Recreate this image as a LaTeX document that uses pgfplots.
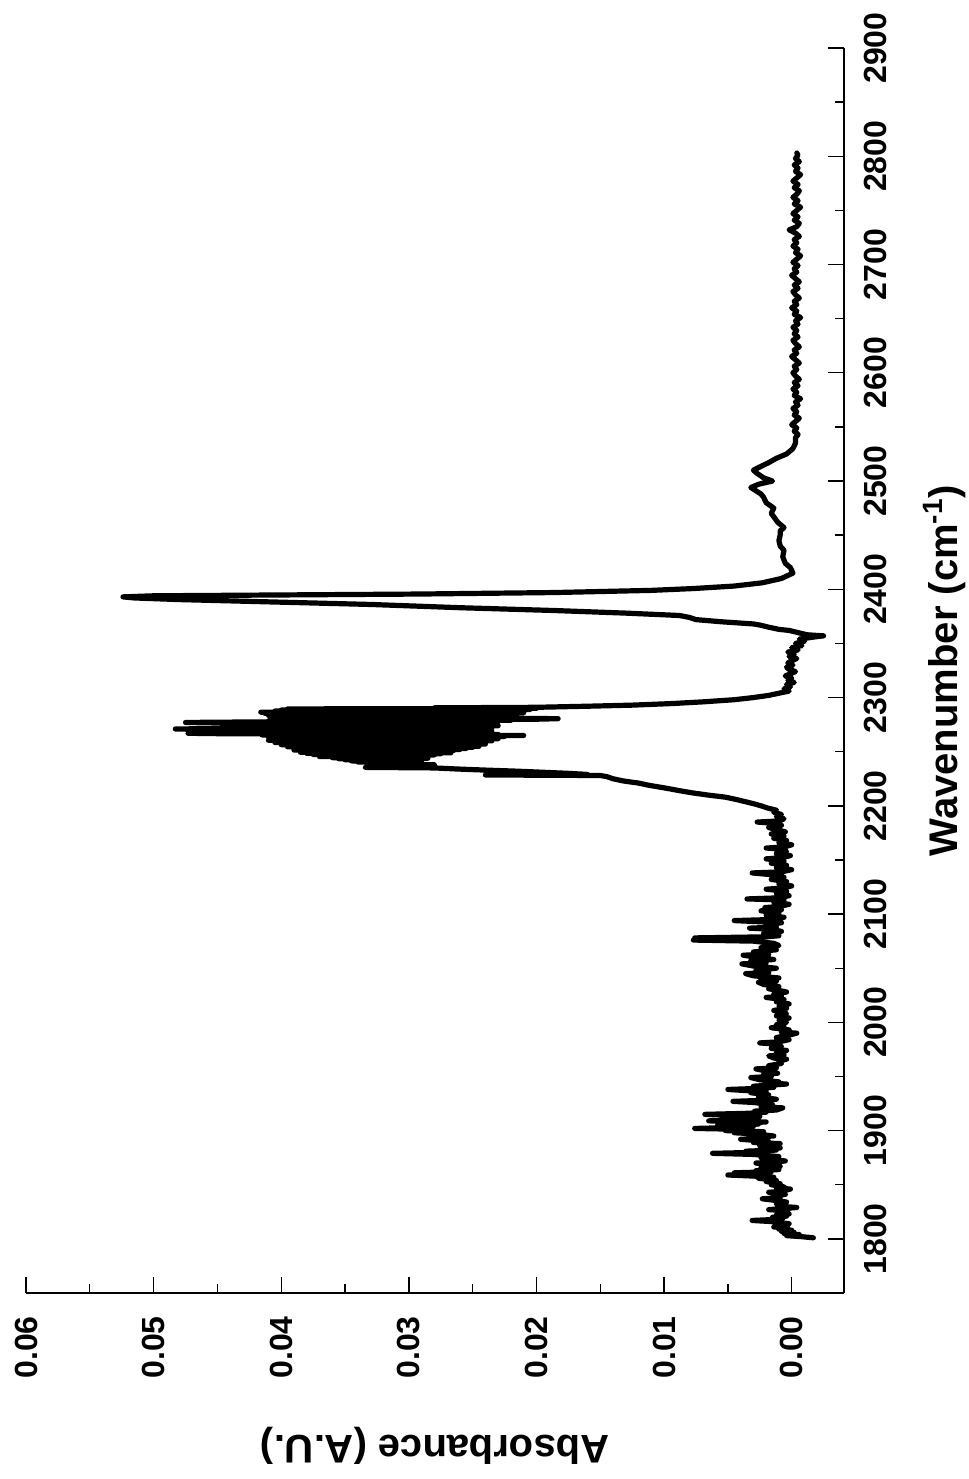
\documentclass[border=0pt]{standalone}
\usepackage{fontspec}
\setmainfont{Liberation Sans}
\usepackage{graphicx}
\usepackage{pgfplots}
\usepackage{pgfplotstable}
\pgfplotsset{compat=1.18}

% absorbance spectrum: wavenumber (cm^-1), absorbance (A.U.)
\pgfplotstableread{
w a
1801 -0.0017
1802 -0.0008
1803 0.0004
1804 -0.0006
1805 0.0006
1806 -0.0002
1807 0.0008
1808 0.0000
1809 0.0010
1810 0.0003
1811 0.0014
1812 0.0005
1813 0.0011
1814 0.0002
1815 0.0009
1816 0.0016
1817 0.0031
1818 0.0012
1819 0.0007
1820 0.0015
1821 0.0004
1822 0.0012
1823 0.0002
1824 0.0010
1826 0.0003
1827 0.0018
1828 0.0006
1829 -0.0004
1830 0.0008
1832 0.0012
1834 0.0004
1836 0.0016
1837 0.0023
1838 0.0009
1840 0.0013
1841 0.0005
1843 0.0018
1844 0.0008
1846 0.0001
1847 0.0012
1848 0.0006
1850 0.0016
1851 0.0009
1853 0.0020
1854 0.0012
1856 0.0026
1857 0.0014
1858 0.0030
1859 0.0050
1860 0.0022
1861 0.0045
1862 0.0016
1863 0.0028
1864 0.0010
1866 0.0024
1867 0.0009
1869 0.0018
1870 0.0028
1871 0.0012
1872 0.0005
1873 0.0016
1875 0.0024
1876 0.0010
1878 0.0030
1879 0.0062
1880 0.0025
1881 0.0036
1882 0.0012
1883 0.0022
1884 0.0009
1886 0.0025
1887 0.0013
1888 0.0009
1889 0.0030
1890 0.0018
1892 0.0040
1893 0.0020
1894 0.0033
1895 0.0014
1897 0.0028
1898 0.0045
1899 0.0022
1900 0.0052
1901 0.0032
1902 0.0076
1903 0.0040
1904 0.0030
1905 0.0058
1906 0.0026
1907 0.0037
1908 0.0020
1909 0.0065
1910 0.0030
1912 0.0046
1913 0.0025
1915 0.0068
1916 0.0034
1917 0.0020
1918 0.0029
1919 0.0012
1921 0.0007
1922 0.0024
1924 0.0015
1926 0.0030
1927 0.0046
1928 0.0022
1929 0.0012
1931 0.0026
1933 0.0018
1935 0.0032
1936 0.0020
1937 0.0036
1938 0.0050
1939 0.0026
1940 0.0014
1941 0.0030
1943 0.0004
1944 0.0018
1945 0.0010
1947 0.0025
1949 0.0032
1950 0.0016
1952 0.0022
1953 0.0011
1955 0.0020
1957 0.0028
1958 0.0012
1960 0.0018
1962 0.0008
1964 0.0010
1966 0.0004
1967 0.0014
1969 0.0018
1970 0.0006
1972 0.0012
1974 0.0004
1976 0.0016
1978 0.0008
1980 0.0014
1981 0.0025
1982 0.0010
1984 0.0002
1986 0.0012
1988 0.0003
1990 -0.0004
1991 0.0008
1993 0.0002
1995 0.0016
1996 0.0006
1998 0.0012
2000 0.0004
2002 0.0010
2004 0.0002
2006 0.0012
2008 0.0004
2009 0.0006
2011 0.0014
2013 0.0004
2015 0.0010
2017 0.0002
2019 0.0012
2021 0.0006
2023 0.0020
2024 0.0008
2026 0.0014
2028 0.0004
2029 0.0008
2031 0.0018
2033 0.0010
2035 0.0022
2037 0.0026
2038 0.0012
2040 0.0024
2041 0.0010
2043 0.0030
2045 0.0036
2046 0.0018
2048 0.0028
2050 0.0012
2052 0.0030
2054 0.0039
2055 0.0020
2057 0.0032
2058 0.0014
2060 0.0026
2062 0.0038
2063 0.0018
2065 0.0030
2067 0.0012
2069 0.0024
2071 0.0010
2073 0.0014
2075 0.0030
2076 0.0077
2077 0.0030
2078 0.0076
2079 0.0020
2080 0.0010
2082 0.0022
2084 0.0008
2086 0.0016
2087 0.0033
2088 0.0012
2090 0.0020
2092 0.0008
2094 0.0045
2095 0.0015
2097 0.0006
2099 0.0020
2101 0.0010
2103 0.0024
2104 0.0008
2106 0.0021
2107 0.0010
2109 0.0002
2111 0.0014
2113 0.0006
2114 0.0035
2115 0.0010
2117 0.0002
2119 0.0012
2121 0.0004
2123 0.0020
2124 0.0008
2126 0.0000
2128 0.0010
2130 0.0004
2132 0.0016
2134 0.0006
2136 0.0012
2138 0.0031
2139 0.0008
2141 0.0000
2143 0.0012
2145 0.0004
2147 0.0016
2149 0.0006
2151 0.0020
2152 0.0008
2154 0.0001
2156 0.0012
2158 0.0004
2160 0.0008
2161 0.0020
2162 0.0006
2164 0.0000
2166 0.0010
2168 0.0004
2170 0.0014
2172 0.0006
2174 0.0016
2176 0.0005
2178 0.0012
2180 0.0018
2182 0.0008
2184 0.0015
2185 0.0027
2186 0.0010
2188 0.0006
2190 0.0012
2192 0.0008
2194 0.0014
2196 0.0012
2198 0.0019
2200 0.0024
2202 0.0030
2204 0.0037
2206 0.0044
2208 0.0052
2210 0.0066
2212 0.0078
2214 0.0088
2216 0.0097
2217 0.0102
2219 0.0112
2221 0.0120
2223 0.0132
2225 0.0140
2227 0.0145
2228 0.0150
2228.5 0.0240
2229 0.0160
2230 0.0175
2231 0.0195
2232 0.0215
2233 0.0240
2234 0.0262
2235 0.0280
2235.5 0.0334
2236.0 0.0300
2236.5 0.0320
2237.0 0.0290
2237.5 0.0310
2238.0 0.0280
2238.5 0.0320
2239.0 0.0295
2239.5 0.0330
2240.0 0.0290
2240.5 0.0340
2241.0 0.0300
2241.5 0.0345
2242.0 0.0290
2242.5 0.0350
2243.0 0.0300
2243.5 0.0355
2244.0 0.0285
2244.5 0.0360
2245.0 0.0295
2245.5 0.0370
2246.0 0.0285
2246.5 0.0365
2247.0 0.0280
2247.5 0.0375
2248.0 0.0275
2248.5 0.0380
2249.0 0.0267
2249.5 0.0385
2250.0 0.0270
2250.5 0.0380
2251.0 0.0265
2251.5 0.0390
2252.0 0.0260
2252.5 0.0385
2253.0 0.0255
2253.5 0.0387
2254.0 0.0250
2254.5 0.0395
2255.0 0.0245
2255.5 0.0390
2256.0 0.0250
2256.5 0.0400
2257.0 0.0240
2257.5 0.0395
2258.0 0.0245
2258.5 0.0405
2259.0 0.0240
2259.5 0.0400
2260.0 0.0235
2260.5 0.0410
2261.0 0.0240
2261.5 0.0390
2262.0 0.0230
2262.5 0.0405
2263.0 0.0235
2263.5 0.0410
2264.0 0.0225
2264.5 0.0400
2265.0 0.0210
2265.5 0.0415
2266.0 0.0230
2266.5 0.0440
2267.0 0.0473
2267.5 0.0420
2268.0 0.0240
2268.5 0.0410
2269.0 0.0235
2269.5 0.0415
2270.0 0.0240
2270.5 0.0460
2271.0 0.0483
2271.5 0.0430
2272.0 0.0235
2272.5 0.0410
2273.0 0.0240
2273.5 0.0415
2274.0 0.0230
2274.5 0.0410
2275.0 0.0235
2275.5 0.0420
2276.0 0.0240
2276.5 0.0450
2277.0 0.0475
2277.5 0.0420
2278.0 0.0230
2278.5 0.0410
2279.0 0.0220
2279.5 0.0405
2280.0 0.0200
2280.5 0.0183
2281.0 0.0240
2281.5 0.0400
2282.0 0.0230
2282.5 0.0406
2283.0 0.0225
2283.5 0.0410
2284.0 0.0220
2284.5 0.0405
2285.0 0.0215
2285.5 0.0413
2286.0 0.0210
2286.5 0.0416
2287.0 0.0215
2287.5 0.0405
2288.0 0.0210
2288.5 0.0400
2289.0 0.0205
2289.5 0.0395
2290.0 0.0200
2290.5 0.0280
2291.0 0.0200
2292.0 0.0160
2293.0 0.0125
2294.5 0.0093
2296 0.0070
2298 0.0045
2300 0.0030
2302 0.0018
2304 0.0010
2306 0.0002
2308 0.0006
2310 0.0001
2312 0.0004
2314 -0.0002
2316 0.0003
2318 0.0000
2320 0.0005
2322 0.0001
2324 -0.0003
2326 0.0002
2328 0.0004
2330 -0.0001
2332 0.0003
2334 0.0000
2336 -0.0004
2338 0.0002
2340 -0.0002
2342 0.0003
2344 -0.0005
2346 0.0000
2348 -0.0008
2350 -0.0003
2352 -0.0010
2354 -0.0006
2356 -0.0018
2357 -0.0025
2358 -0.0012
2360 -0.0005
2362 0.0002
2363 0.0010
2365 0.0018
2367 0.0025
2368 0.0030
2370 0.0055
2372 0.0075
2374 0.0080
2375.8 0.0088
2378 0.0130
2380.4 0.0186
2383 0.0260
2386 0.0330
2388.7 0.0420
2390.5 0.0480
2392 0.0515
2393 0.0524
2394 0.0500
2395.6 0.0294
2397 0.0186
2399 0.0110
2400.7 0.0077
2403 0.0045
2406 0.0023
2410 0.0008
2415 -0.0001
2420 0.0001
2424 0.0005
2430 0.0007
2436 0.0006
2440 0.0009
2445 0.0010
2450 0.0009
2454 0.0009
2457 0.0006
2462 0.0011
2467 0.0014
2470 0.0016
2475 0.0014
2480 0.0020
2485 0.0022
2488 0.0024
2491 0.0028
2494 0.0032
2497 0.0026
2500 0.0015
2503 0.0022
2507 0.0027
2510 0.0030
2513 0.0025
2517 0.0018
2521 0.0012
2525 0.0004
2530 -0.0001
2535 -0.0003
2540 -0.0003
2543 -0.0005
2546 -0.0002
2549 -0.0004
2552 0.0000
2555 -0.0003
2558 -0.0006
2561 -0.0002
2564 -0.0004
2567 -0.0001
2570 -0.0005
2573 -0.0003
2576 -0.0007
2579 -0.0002
2582 -0.0004
2585 -0.0001
2588 -0.0005
2591 -0.0002
2594 -0.0006
2597 -0.0003
2600 -0.0001
2603 -0.0004
2606 -0.0002
2609 -0.0006
2612 -0.0003
2615 0.0000
2618 -0.0004
2621 -0.0002
2624 -0.0006
2627 -0.0003
2630 -0.0001
2633 -0.0005
2636 -0.0002
2639 -0.0004
2642 -0.0001
2645 -0.0005
2648 -0.0003
2651 -0.0007
2654 -0.0002
2657 -0.0004
2660 0.0000
2663 -0.0004
2666 -0.0002
2669 -0.0006
2672 -0.0003
2675 -0.0001
2678 -0.0005
2681 -0.0002
2684 -0.0006
2687 -0.0003
2690 0.0000
2693 -0.0004
2696 -0.0002
2699 -0.0005
2702 -0.0001
2705 -0.0004
2708 -0.0007
2711 -0.0003
2714 -0.0005
2717 -0.0001
2720 -0.0004
2723 -0.0002
2726 -0.0006
2729 -0.0003
2732 0.0002
2735 -0.0004
2738 -0.0006
2741 -0.0002
2744 -0.0005
2747 -0.0001
2750 -0.0004
2753 -0.0007
2756 -0.0002
2759 -0.0005
2762 -0.0001
2765 -0.0004
2768 -0.0006
2771 -0.0002
2774 -0.0005
2777 -0.0001
2780 -0.0004
2783 -0.0007
2786 -0.0003
2789 -0.0005
2792 -0.0002
2795 -0.0006
2798 -0.0003
2801 -0.0005
2803 -0.0004
}\spectrum

\begin{document}
\rotatebox{90}{%
\begin{tikzpicture}
\begin{axis}[
  name=ax,
  scale only axis,
  width=622.5pt, height=409pt,
  xmin=1750, xmax=2900,
  ymin=-0.0041, ymax=0.06,
  axis lines*=left,
  axis line style={line width=1.3pt},
  tick align=inside,
  tick style={line width=0.7pt, black},
  major tick length=8pt,
  minor tick length=4.5pt,
  xtick={1800,1900,...,2900},
  minor x tick num=1,
  ytick={0,0.01,0.02,0.03,0.04,0.05,0.06},
  yticklabels={0.00,0.01,0.02,0.03,0.04,0.05,0.06},
  minor y tick num=1,
  scaled y ticks=false,
  /pgf/number format/1000 sep={},
  /pgf/number format/assume math mode=true,
  tick label style={font=\bfseries\fontsize{16}{16}\selectfont},
  xticklabel style={anchor=base, yshift=-21.5pt},
  yticklabel style={anchor=east, inner sep=0pt, xshift=-11.5pt},
  label style={font=\bfseries\fontsize{20}{20}\selectfont},
  xlabel={Wavenumber (cm\textsuperscript{-1})},
  ylabel={Absorbance (A.U.)},
  xlabel style={at={([yshift=-57pt]axis description cs:0.5,0)}, anchor=base},
  ylabel style={at={([xshift=-71pt]axis description cs:0,0.5)}, anchor=base},
]
\addplot[black, line width=2.6pt, line join=round, line cap=round] table[x=w, y=a] {\spectrum};
\end{axis}
% fix the page to the plot area plus the label margins
\pgfresetboundingbox
\path[use as bounding box] ([xshift=-93pt,yshift=-62.5pt]ax.south west)
  rectangle ([xshift=24pt,yshift=13pt]ax.north east);
\end{tikzpicture}%
}
\end{document}
